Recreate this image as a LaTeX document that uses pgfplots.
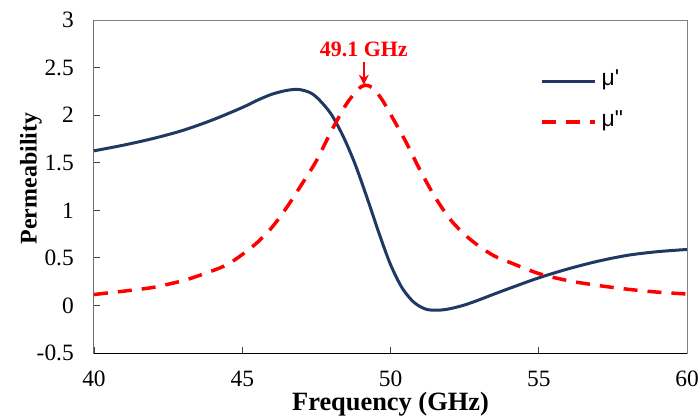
\documentclass[border=0pt]{standalone}
\usepackage{fontspec}
\setmainfont{Liberation Serif}
\newfontfamily\legfont{Liberation Sans}
\usepackage{pgfplots}
\pgfplotsset{compat=1.18}
\usetikzlibrary{arrows.meta}

\definecolor{navy}{HTML}{1F3864}

\begin{document}
\begin{tikzpicture}
\begin{axis}[
  scale only axis,
  width=593bp, height=333bp,
  xmin=40, xmax=60,
  ymin=-0.5, ymax=3,
  xtick={40,45,50,55,60},
  ytick={-0.5,0,0.5,1,1.5,2,2.5,3},
  tick align=inside,
  xtick pos=left, ytick pos=left,
  major tick length=6bp,
  tick style={black!75, line width=0.8bp},
  axis line style={draw=gray, line width=1bp},
  /pgf/number format/assume math mode=true,
  ticklabel style={font=\fontsize{23.5}{28}\selectfont, inner sep=0pt},
  yticklabel style={anchor=east, xshift=-20bp},
  xticklabel style={anchor=north, yshift=-18bp},
  xlabel={\textbf{Frequency (GHz)}},
  ylabel={\textbf{Permeability}},
  xlabel style={font=\fontsize{26.5}{32}\selectfont, inner sep=0pt,
    at={(axis description cs:0.5,-0.174)}, anchor=base},
  ylabel style={font=\fontsize{24}{28}\selectfont, inner sep=0pt,
    at={(axis description cs:-0.0966,0.524)}, anchor=base},
  legend cell align=left,
  legend style={draw=none, fill=none, inner sep=0pt,
    at={(axis cs:55.04,2.46)}, anchor=north west,
    font=\legfont\fontsize{23}{27}\selectfont,
    nodes={inner sep=0pt, text height=14bp, text depth=5bp},
    row sep=22bp},
  legend image code/.code={
    \draw[#1] (0bp,0bp) -- (53bp,0bp);
    \path (58bp,0bp);},
]
\addplot[navy, line width=3bp, smooth] coordinates {
  (40,1.625) (41,1.685) (42,1.755) (43,1.84) (44,1.95) (45,2.08)
  (45.5,2.155) (46,2.22) (46.5,2.26) (46.9,2.27) (47.3,2.235)
  (47.6,2.16) (48.0,2.01) (48.4,1.78) (48.8,1.49) (49.2,1.14)
  (49.6,0.77) (50.0,0.43) (50.4,0.18) (50.8,0.03) (51.2,-0.04)
  (51.6,-0.05) (52.0,-0.035) (52.5,0.005) (53.0,0.06) (53.5,0.12)
  (54,0.178) (55,0.29) (56,0.385) (57,0.465) (58,0.527) (59,0.565) (60,0.588)
};
\addlegendentry{μ'}
\addplot[red, line width=3.5bp, smooth, dash pattern=on 14bp off 10bp] coordinates {
  (40,0.115) (41,0.15) (42,0.19) (43,0.26) (43.5,0.31) (44,0.365)
  (44.5,0.43) (45,0.535) (45.5,0.66) (46,0.82) (46.5,1.03) (47,1.27)
  (47.5,1.52) (48,1.83) (48.5,2.11) (48.9,2.27) (49.15,2.315)
  (49.4,2.285) (49.7,2.17) (50.0,2.01) (50.5,1.73) (51.0,1.42)
  (51.5,1.14) (52.0,0.91) (52.5,0.745) (53.0,0.62) (53.5,0.52)
  (54.0,0.455) (55,0.335) (56,0.26) (57,0.21) (58,0.17) (59,0.14) (60,0.12)
};
\addlegendentry{μ"}
\draw[black, line width=1bp] (rel axis cs:0,1) -- (rel axis cs:0,0) -- (rel axis cs:1,0);
\draw[red, line width=2bp, -{Stealth[length=10bp,width=10bp]}]
  (axis cs:49.1,2.56) -- (axis cs:49.1,2.32);
\node[red, anchor=base, inner sep=0pt, font=\bfseries\fontsize{22}{26}\selectfont]
  at (axis cs:49.1,2.613) {49.1 GHz};
\end{axis}
\pgfresetboundingbox
\useasboundingbox (-94bp,-63bp) rectangle (606bp,353bp);
\end{tikzpicture}
\end{document}
